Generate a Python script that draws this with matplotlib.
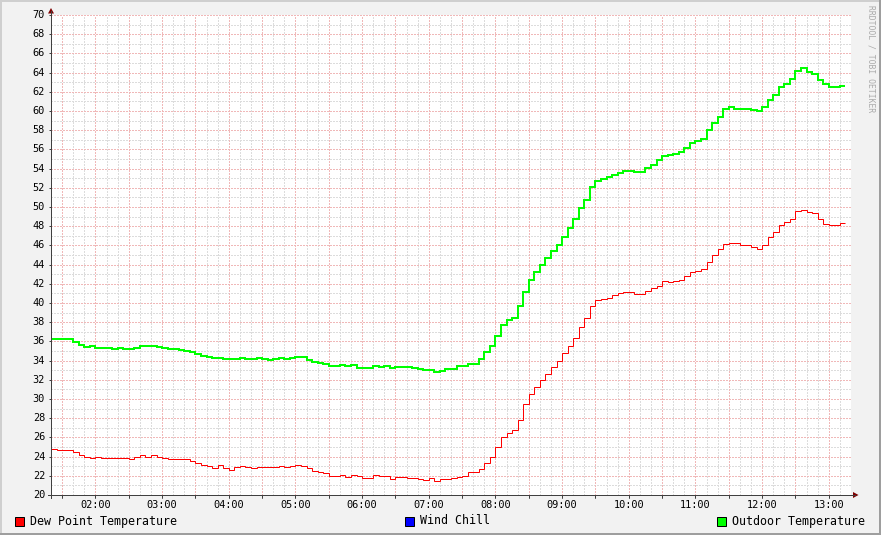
import numpy as np
import matplotlib
matplotlib.use("Agg")
import matplotlib.pyplot as plt
from matplotlib.patches import Rectangle, Polygon
from matplotlib.lines import Line2D

# ---------------- data ----------------
start_hour = 1 + 20 / 60.0      # 01:20
step_minutes = 5
span_hours = 12

outdoor_temperature = [
    36.2, 36.2, 36.2, 36.2, 35.9, 35.65, 35.4, 35.5, 35.35, 35.35,
    35.35, 35.25, 35.35, 35.25, 35.25, 35.35, 35.5, 35.5, 35.55, 35.45,
    35.3, 35.25, 35.25, 35.15, 35.0, 34.85, 34.7, 34.5, 34.4, 34.25,
    34.25, 34.15, 34.15, 34.15, 34.25, 34.15, 34.2, 34.3, 34.2, 34.1,
    34.2, 34.3, 34.2, 34.3, 34.4, 34.4, 34.1, 33.85, 33.8, 33.65,
    33.45, 33.45, 33.5, 33.4, 33.5, 33.25, 33.25, 33.25, 33.45, 33.35,
    33.45, 33.25, 33.35, 33.35, 33.35, 33.25, 33.15, 33.0, 33.0, 32.85,
    32.95, 33.15, 33.15, 33.45, 33.45, 33.65, 33.65, 34.15, 34.85, 35.5,
    36.55, 37.7, 38.25, 38.4, 39.7, 41.15, 42.4, 43.25, 44.0, 44.7,
    45.45, 46.0, 46.9, 47.8, 48.7, 49.85, 50.75, 52.1, 52.75, 52.9,
    53.1, 53.35, 53.55, 53.8, 53.8, 53.6, 53.65, 54.05, 54.4, 54.85,
    55.3, 55.45, 55.55, 55.75, 56.15, 56.65, 56.9, 57.1, 58.0, 58.7,
    59.4, 60.25, 60.4, 60.25, 60.25, 60.25, 60.1, 59.95, 60.45, 61.15,
    61.7, 62.55, 62.8, 63.35, 64.15, 64.5, 64.05, 63.9, 63.25, 62.85,
    62.55, 62.55, 62.65,
]

dew_point_temperature = [
    24.8, 24.65, 24.7, 24.65, 24.45, 24.15, 23.95, 23.85, 23.95, 23.85,
    23.85, 23.85, 23.85, 23.85, 23.75, 23.95, 24.15, 23.95, 24.15, 23.95,
    23.85, 23.75, 23.75, 23.75, 23.75, 23.5, 23.35, 23.1, 23.0, 22.8,
    23.1, 22.8, 22.65, 22.9, 23.0, 22.9, 22.8, 22.9, 22.9, 22.9,
    22.9, 23.0, 22.9, 23.0, 23.1, 23.0, 22.8, 22.55, 22.4, 22.3,
    22.0, 22.0, 22.05, 21.85, 22.05, 22.0, 21.75, 21.75, 22.05, 22.0,
    22.0, 21.65, 21.85, 21.85, 21.75, 21.75, 21.65, 21.55, 21.75, 21.45,
    21.7, 21.7, 21.75, 21.85, 21.95, 22.35, 22.35, 22.75, 23.35, 24.0,
    25.05, 26.0, 26.5, 26.75, 27.85, 29.45, 30.5, 31.3, 32.0, 32.65,
    33.3, 33.95, 34.75, 35.5, 36.4, 37.55, 38.4, 39.65, 40.3, 40.45,
    40.5, 40.8, 41.0, 41.1, 41.1, 40.95, 40.95, 41.2, 41.55, 41.75,
    42.25, 42.15, 42.25, 42.35, 42.8, 43.2, 43.3, 43.5, 44.25, 44.95,
    45.6, 46.1, 46.3, 46.2, 46.0, 46.0, 45.85, 45.6, 46.0, 46.85,
    47.35, 48.1, 48.4, 48.8, 49.55, 49.7, 49.45, 49.35, 48.7, 48.2,
    48.1, 48.1, 48.3,
]

y_min, y_max = 20, 70
y_tick_values = list(range(20, 71, 2))
x_tick_hours = list(range(2, 14))
x_tick_labels = ["%02d:00" % h for h in x_tick_hours]

legend_labels = ["Dew Point Temperature", "Wind Chill", "Outdoor Temperature"]
legend_colors = ["#FF0000", "#0000FF", "#00FF00"]
watermark = "RRDTOOL / TOBI OETIKER"

# ---------------- figure ----------------
W, H = 881, 535
DPI = 72
fig = plt.figure(figsize=(W / DPI, H / DPI), dpi=DPI)
fig.patch.set_facecolor("#F2F2F2")

def fx(px):
    return px / W

def fy(py):
    return 1 - py / H

# 3D frame shading
fig.patches.append(Rectangle((0, fy(2)), 1, 2 / H, transform=fig.transFigure,
                             facecolor="#CFCFCF", edgecolor="none"))
fig.patches.append(Rectangle((0, 0), 2 / W, 1, transform=fig.transFigure,
                             facecolor="#CFCFCF", edgecolor="none"))
fig.patches.append(Rectangle((0, 0), 1, 2 / H, transform=fig.transFigure,
                             facecolor="#9E9E9E", edgecolor="none"))
fig.patches.append(Rectangle((fx(W - 2), 0), 2 / W, 1, transform=fig.transFigure,
                             facecolor="#9E9E9E", edgecolor="none"))

left_px, right_px, top_px, bottom_px = 51, 851, 15, 495
ax = fig.add_axes([fx(left_px), fy(bottom_px), (right_px - left_px) / W,
                   (bottom_px - top_px) / H])
ax.set_facecolor("#FFFFFF")
x0 = start_hour
x1 = start_hour + span_hours
ax.set_xlim(x0, x1)
ax.set_ylim(y_min, y_max)
for s in ax.spines.values():
    s.set_visible(False)
ax.set_xticks([])
ax.set_yticks([])

dot = (0, (1, 1))
minor_col = "#DCDCDC"
major_col = "#F0B8B8"

# vertical grid: minor every 10 minutes, major every 30 minutes
minor_v = np.arange(np.ceil(x0 * 6) / 6, x1 + 1e-9, 1 / 6)
major_v = np.arange(np.ceil(x0 * 2) / 2, x1 + 1e-9, 0.5)
minor_v = [v for v in minor_v if all(abs(v - m) > 1e-6 for m in major_v) and v > x0 + 1e-6]
minor_h = [v for v in range(y_min + 1, y_max, 2)]
major_h = [v for v in y_tick_values if y_min < v <= y_max]

for v in minor_v:
    ax.axvline(v, color=minor_col, linestyle=dot, linewidth=1, antialiased=False, zorder=1)
for v in minor_h:
    ax.axhline(v, color=minor_col, linestyle=dot, linewidth=1, antialiased=False, zorder=1)
for v in major_v:
    ax.axvline(v, color=major_col, linestyle=dot, linewidth=1, antialiased=False, zorder=2)
for v in major_h:
    ax.axhline(v, color=major_col, linestyle=dot, linewidth=1, antialiased=False, zorder=2)

# data (step lines)
n = len(outdoor_temperature)
edges = x0 + np.arange(n + 1) * step_minutes / 60.0
ax.stairs(dew_point_temperature, edges, baseline=None, color="#FF0000",
          linewidth=1, zorder=4, snap=True)
ax.stairs(outdoor_temperature, edges, baseline=None, color="#00FF00",
          linewidth=2, zorder=5, snap=True)

# axes lines, ticks and arrows (figure pixel coordinates)
axis_col = "#404040"
arrow_col = "#7F0000"

def fig_line(xs, ys, **kw):
    fig.add_artist(Line2D([fx(v) for v in xs], [fy(v) for v in ys],
                          transform=fig.transFigure, **kw))

fig_line([left_px, left_px], [bottom_px + 3, 11], color=axis_col, linewidth=1)
fig_line([left_px - 3, 855], [bottom_px, bottom_px], color=axis_col, linewidth=1)
fig.add_artist(Polygon([(fx(48), fy(13.5)), (fx(54), fy(13.5)), (fx(51), fy(8))],
                       closed=True, transform=fig.transFigure,
                       facecolor=arrow_col, edgecolor="none"))
fig.add_artist(Polygon([(fx(853), fy(492)), (fx(853), fy(498)), (fx(858.5), fy(495))],
                       closed=True, transform=fig.transFigure,
                       facecolor=arrow_col, edgecolor="none"))

mono = "DejaVu Sans Mono"
# y tick labels
for v in y_tick_values:
    ax.annotate(str(v), xy=(x0, v), xycoords="data", xytext=(-6, 0),
                textcoords="offset points", ha="right", va="center",
                fontsize=10.3, family=mono, color="#000000")
# x tick labels
for h, lab in zip(x_tick_hours, x_tick_labels):
    ax.annotate(lab, xy=(h, y_min), xycoords="data", xytext=(0, -9.5),
                textcoords="offset points", ha="center", va="center",
                fontsize=10.3, family=mono, color="#000000")
# small ticks on x axis at major grid, y axis at labels
for v in major_v:
    ax.plot([v, v], [y_min, y_min], marker=3, markersize=2.5, color=axis_col,
            clip_on=False, zorder=6)
for v in y_tick_values:
    ax.plot([x0], [v], marker=0, markersize=2.5, color=axis_col,
            clip_on=False, zorder=6)

# legend
legend_x = [15, 405, 717]
for xpos, lab, col in zip(legend_x, legend_labels, legend_colors):
    fig.patches.append(Rectangle((fx(xpos), fy(525.5)), 9 / W, 9 / H,
                                 transform=fig.transFigure, facecolor=col,
                                 edgecolor="#000000", linewidth=1))
    fig.text(fx(xpos + 15), fy(521), lab, ha="left", va="center",
             fontsize=11.6, family=mono, color="#000000")

# watermark
fig.text(fx(871.5), fy(5), watermark, rotation=270, ha="center", va="top",
         fontsize=8, family=mono, color="#AAAAAA")

fig.savefig("out.png", dpi=DPI, facecolor=fig.get_facecolor())
